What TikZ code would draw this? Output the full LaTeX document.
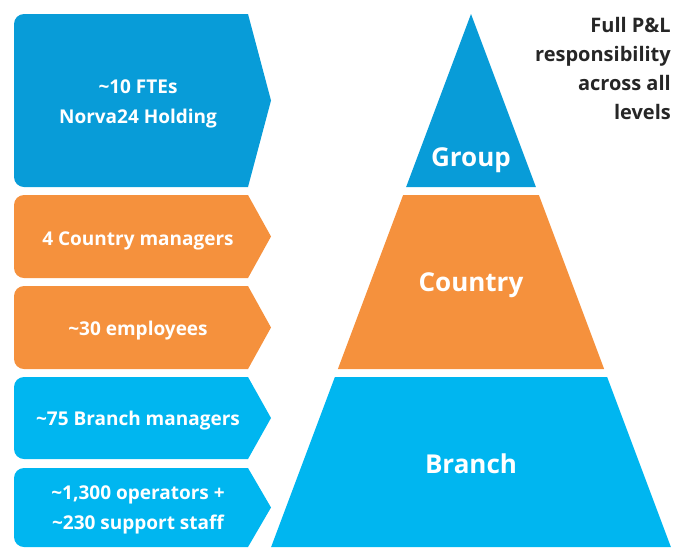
\documentclass[tikz,border=0pt]{standalone}
\usepackage{fontspec}
\setmainfont{Open Sans}
\definecolor{grpblue}{HTML}{089CD8}
\definecolor{ctyorange}{HTML}{F5913D}
\definecolor{brblue}{HTML}{00B6F0}
\definecolor{txtgray}{HTML}{262626}
\tikzset{
  boxtext/.style={text=white, font=\fontsize{19}{30}\selectfont\bfseries, align=center, inner sep=0pt},
  pyrtext/.style={text=white, font=\fontsize{26}{30}\selectfont\bfseries, inner sep=0pt, anchor=base},
  sidetext/.style={text=txtgray, font=\fontsize{20}{28.8}\selectfont\bfseries, align=right, inner sep=0pt}
}
\newcommand{\arrowbox}[4]{%
  % #1 colour, #2 top, #3 bottom, #4 name
  \pgfmathsetmacro{\mymid}{(#2+#3)/2}
  \fill[#1] (14,\mymid) [rounded corners=10pt] -- (14,#2) -- (130,#2) [sharp corners] -- (248,#2) -- (271,\mymid) -- (248,#3) -- (130,#3) [rounded corners=10pt] -- (14,#3) -- cycle;
  \coordinate (#4) at (138,\mymid);
}
\begin{document}
\begin{tikzpicture}[x=1pt,y=-1pt]
\useasboundingbox (0,0) rectangle (677,547);
% left boxes
\arrowbox{grpblue}{14}{187}{b1}
\arrowbox{ctyorange}{195}{278}{b2}
\arrowbox{ctyorange}{286}{369}{b3}
\arrowbox{brblue}{377}{459}{b4}
\arrowbox{brblue}{468}{547}{b5}
\node[boxtext] (t1) at ([yshift=-3pt]b1) {\textasciitilde 10 FTEs\\Norva24 Holding};
\node[boxtext, anchor=base] (t2) at ([yshift=-8.5pt]b2) {4 Country managers};
\node[boxtext, anchor=base] (t3) at ([yshift=-8pt]b3) {\textasciitilde 30 employees};
\node[boxtext, anchor=base] (t4) at ([yshift=-7pt]b4) {\textasciitilde 75 Branch managers};
\node[boxtext] (t5) at ([yshift=-2.5pt]b5) {\textasciitilde 1,300 operators +\\\textasciitilde 230 support staff};
% pyramid (apex 471,14 ; half-width 0.375*(y-14))
\fill[grpblue] (471,14) -- (535.875,187) -- (406.125,187) -- cycle;
\fill[ctyorange] (403.125,195) -- (538.875,195) -- (604.125,369) -- (337.875,369) -- cycle;
\fill[brblue] (334.875,377) -- (607.125,377) -- (670.875,547) -- (271.125,547) -- cycle;
\node[pyrtext] (group) at (471,166.7) {Group};
\node[pyrtext] (country) at (471,291.7) {Country};
\node[pyrtext] (branch) at (471,473.3) {Branch};
% side text
\node[sidetext, anchor=north east] (pl) at (671,17.5) {Full P\&L\\responsibility\\across all\\levels};
\end{tikzpicture}
\end{document}
